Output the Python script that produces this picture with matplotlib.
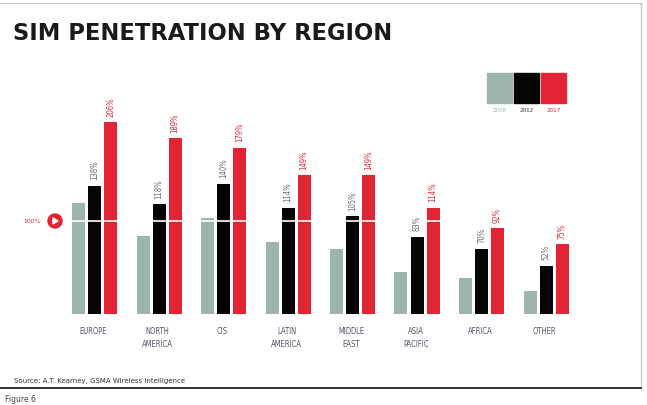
import matplotlib
matplotlib.use("Agg")
import matplotlib.pyplot as plt
from matplotlib.patches import Rectangle, Ellipse, Polygon
from matplotlib.lines import Line2D

categories = ["EUROPE", "NORTH\nAMERICA", "CIS", "LATIN\nAMERICA", "MIDDLE\nEAST",
              "ASIA\nPACIFIC", "AFRICA", "OTHER"]
years = ["2008", "2012", "2017"]
v2008 = [119, 84, 103, 77, 70, 45, 39, 25]
v2012 = [138, 118, 140, 114, 105, 83, 70, 52]
v2017 = [206, 189, 179, 149, 149, 114, 92, 75]

GRAY = "#9db5ae"
BLACK = "#050505"
RED = "#e32434"
LBL = "#55506a"

W, H = 647, 405
fig = plt.figure(figsize=(W / 100, H / 100), dpi=100)
fig.patch.set_facecolor("white")

def fx(px):
    return px / W

def fy(py):
    return 1 - py / H

# frame lines
fig.add_artist(Line2D([fx(0), fx(641)], [fy(3), fy(3)], color="#c8c8c8", lw=1))
fig.add_artist(Line2D([fx(641), fx(641)], [fy(3), fy(388)], color="#c8c8c8", lw=1))
fig.add_artist(Line2D([fx(0), fx(641)], [fy(388), fy(388)], color="#333333", lw=1.4))

fig.text(fx(13), fy(33), "SIM PENETRATION BY REGION", fontsize=16.3, fontweight="bold",
         color="#1a1a1a", va="center", ha="left")
fig.text(fx(14), fy(381), "Source: A.T. Kearney, GSMA Wireless Intelligence", fontsize=5,
         color="#333333", va="center", ha="left")
fig.text(fx(5), fy(399), "Figure 6", fontsize=5.5, color="#444444", va="center", ha="left")

# axes: baseline at y=314 px, 100% at y=221 px
base_px, top_px = 314, 60
left_px, right_px = 60, 580
ax = fig.add_axes([fx(left_px), fy(base_px), (right_px - left_px) / W, (base_px - top_px) / H])
ymax = (base_px - top_px) / 93 * 100
ax.set_ylim(0, ymax)
ux = 64.5
x0 = 94.5
ax.set_xlim((left_px - x0) / ux, (right_px - x0) / ux)
ax.axis("off")

bw = 13 / ux
off = 16 / ux
xs = range(len(categories))
for i in xs:
    ax.bar(i - off, v2008[i], width=bw, color=GRAY)
    ax.bar(i, v2012[i], width=bw, color=BLACK)
    ax.bar(i + off, v2017[i], width=bw, color=RED)
    ax.text(i, v2012[i] + 6, f"{v2012[i]}%", rotation=90, fontsize=5.5, color="#666677",
            ha="center", va="bottom", fontstretch="condensed", zorder=8)
    ax.text(i + off, v2017[i] + 6, f"{v2017[i]}%", rotation=90, fontsize=5.5, color=RED,
            ha="center", va="bottom", fontstretch="condensed", zorder=8)
    ax.text(i - 0.02, -14, categories[i], fontsize=5.5, color=LBL, ha="center", va="top",
            linespacing=1.5, fontstretch="condensed")

# 100% line across the bars
for i in xs:
    ax.plot([i - off - bw / 2, i + off + bw / 2], [100, 100], color="white", lw=1.2, zorder=5)

# 100% marker
fig.text(fx(32), fy(221), "100%", fontsize=4.5, color=RED, ha="center", va="center")
fig.add_artist(Ellipse((fx(55), fy(221)), 14 / W, 14 / H, color=RED,
                       transform=fig.transFigure))
fig.add_artist(Polygon([[fx(53), fy(218)], [fx(53), fy(224)], [fx(58), fy(221)]], closed=True,
                       color="white", transform=fig.transFigure))

# legend
leg_cols = [GRAY, BLACK, RED]
leg_txt = ["#9db5ae", "#333344", RED]
leg_x = [487, 514, 541]
for c, tc, xx, yr in zip(leg_cols, leg_txt, leg_x, years):
    fig.add_artist(Rectangle((fx(xx), fy(103)), 25 / W, 30 / H, color=c,
                             transform=fig.transFigure))
    fig.text(fx(xx + 12.5), fy(110), yr, fontsize=4.5, color=tc,
             ha="center", va="center", fontstretch="condensed")

fig.savefig("out.png", dpi=100)
